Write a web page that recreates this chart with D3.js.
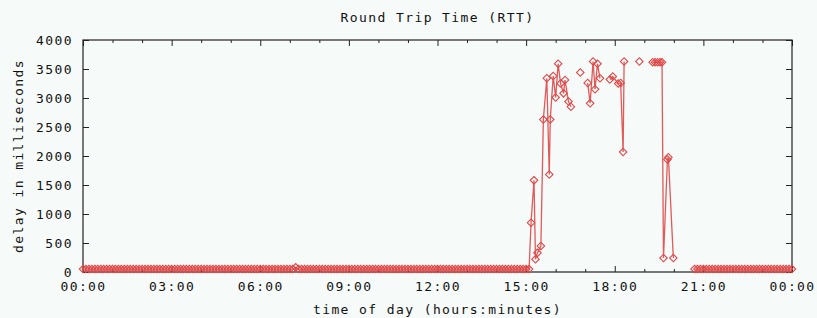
<!DOCTYPE html>
<html>
<head>
<meta charset="utf-8">
<script src="https://cdn.jsdelivr.net/npm/d3@7"></script>
<style>
  body { margin: 0; background: #f6faf8; }
  svg text { font-family: "DejaVu Sans Mono", monospace; font-size: 13px; fill: #111; letter-spacing: 1.4px; }
</style>
</head>
<body>
<div class="grafico"></div>
<script>
/* RTT samples, baseline before the outage (every 6 min from 00:00) */
const morningStart = "00:00"
const morningRtt = [
  50,50,50,50,50,50,50,50,50,50,50,50,50,50,50,50,50,50,50,50,
  50,50,50,50,50,50,50,50,50,50,50,50,50,50,50,50,50,50,50,50,
  50,50,50,50,50,50,50,50,50,50,50,50,50,50,50,50,50,50,50,50,
  50,50,50,50,50,50,50,50,50,50,50,50,80,50,50,50,50,50,50,50,
  50,50,50,50,50,50,50,50,50,50,50,50,50,50,50,50,50,50,50,50,
  50,50,50,50,50,50,50,50,50,50,50,50,50,50,50,50,50,50,50,50,
  50,50,50,50,50,50,50,50,50,50,50,50,50,50,50,50,50,50,50,50,
  50,50,50,50,50,50,50,50,50,50,50,50
]

/* High delay period, null = no sample (line break) */
const burstTimes = ["15:10","15:16","15:19","15:23","15:30","15:35","15:42","15:47","15:49","15:55",
  "16:00","16:05","16:10","16:16","16:19","16:26","16:31", null, "16:50", null,
  "17:05","17:10","17:16","17:20","17:25","17:30", null,
  "17:50","17:56","18:07","18:12","18:17","18:19", null, "18:50", null,
  "19:17","19:22","19:27","19:32","19:36","19:39","19:47","19:49","19:59", null]
const burstRtt = [850,1580,220,330,450,2630,3340,1680,2630,3380,
  3010,3590,3250,3080,3310,2940,2850, null, 3440, null,
  3260,2910,3630,3150,3590,3340, null,
  3320,3370,3250,3260,2070,3630, null, 3630, null,
  3615,3615,3615,3615,3615,240,1940,1980,240, null]

/* Baseline again at night (every 6 min from 20:42) */
const eveningStart = "20:42"
const eveningRtt = [
  50,50,50,50,50,50,50,50,50,50,50,50,50,50,50,50,50,
  50,50,50,50,50,50,50,50,50,50,50,50,50,50,50,50,50
]

const xTickLabels = ["00:00","03:00","06:00","09:00","12:00","15:00","18:00","21:00","00:00"]
const yTicks = [0,500,1000,1500,2000,2500,3000,3500,4000]

const toMin = s => { const p = s.split(':'); return +p[0] * 60 + +p[1] }

/* armar la serie completa */
const series = []
morningRtt.forEach((v, i) => series.push({ t: toMin(morningStart) + i * 6, v }))
burstTimes.forEach((t, i) => series.push({ t: t ? toMin(t) : null, v: burstRtt[i] }))
eveningRtt.forEach((v, i) => series.push({ t: toMin(eveningStart) + i * 6, v }))

const w = 817, h = 318
const m = { l: 83, r: 792, t: 40, b: 272 }

const x = d3.scaleLinear().domain([0, 1440]).range([m.l, m.r])
const y = d3.scaleLinear().domain([0, 4000]).range([m.b, m.t])

const svg = d3.select('.grafico').append('svg')
  .attr('width', w).attr('height', h)

svg.append('rect').attr('width', w).attr('height', h).attr('fill', '#f6faf8')

/* Ejes con ticks hacia adentro */
const majorX = d3.range(0, 1441, 180)
const minorX = d3.range(0, 1441, 60).filter(d => d % 180 !== 0)

const axes = svg.append('g').attr('class', 'axes')

axes.append('g').attr('transform', `translate(0,${m.b})`)
  .call(d3.axisBottom(x).tickValues(majorX).tickSizeInner(-6).tickSizeOuter(0).tickPadding(10)
    .tickFormat((d, i) => xTickLabels[i]))
axes.append('g').attr('transform', `translate(0,${m.b})`)
  .call(d3.axisBottom(x).tickValues(minorX).tickSizeInner(-3).tickSizeOuter(0).tickFormat(''))
axes.append('g').attr('transform', `translate(0,${m.t})`)
  .call(d3.axisTop(x).tickValues(majorX).tickSizeInner(-6).tickSizeOuter(0).tickFormat(''))
axes.append('g').attr('transform', `translate(0,${m.t})`)
  .call(d3.axisTop(x).tickValues(minorX).tickSizeInner(-3).tickSizeOuter(0).tickFormat(''))
axes.append('g').attr('transform', `translate(${m.l},0)`)
  .call(d3.axisLeft(y).tickValues(yTicks).tickSizeInner(-6).tickSizeOuter(0).tickPadding(10)
    .tickFormat(d3.format('d')))
axes.append('g').attr('transform', `translate(${m.r},0)`)
  .call(d3.axisRight(y).tickValues(yTicks).tickSizeInner(-6).tickSizeOuter(0).tickFormat(''))

axes.selectAll('.domain').remove()
axes.selectAll('.tick line').attr('stroke', '#222')
axes.selectAll('.tick text').attr('fill', '#111')
  .style('font-family', '"DejaVu Sans Mono", monospace').style('font-size', '13px')

/* Marco */
svg.append('rect')
  .attr('x', m.l).attr('y', m.t)
  .attr('width', m.r - m.l).attr('height', m.b - m.t)
  .attr('fill', 'none').attr('stroke', '#222').attr('stroke-width', 1.2)

/* Linea + puntos */
const line = d3.line()
  .defined(d => d.t !== null && d.v !== null)
  .x(d => x(d.t)).y(d => y(d.v))

svg.append('path')
  .datum(series)
  .attr('d', line)
  .attr('fill', 'none')
  .attr('stroke', '#e05a5a')
  .attr('stroke-width', 1.3)

const diamond = d3.symbol().type(d3.symbolSquare).size(28)
svg.append('g').selectAll('path')
  .data(series.filter(d => d.t !== null && d.v !== null))
  .join('path')
  .attr('d', diamond)
  .attr('transform', d => `translate(${x(d.t)},${y(d.v)}) rotate(45)`)
  .attr('fill', 'none')
  .attr('stroke', '#e04848')
  .attr('stroke-width', 1.1)

/* Titulos */
svg.append('text')
  .attr('x', (m.l + m.r) / 2).attr('y', 22)
  .attr('text-anchor', 'middle')
  .text('Round Trip Time (RTT)')

svg.append('text')
  .attr('x', (m.l + m.r) / 2).attr('y', 314)
  .attr('text-anchor', 'middle')
  .text('time of day (hours:minutes)')

svg.append('text')
  .attr('transform', `translate(23,${(m.t + m.b) / 2}) rotate(-90)`)
  .attr('text-anchor', 'middle')
  .text('delay in milliseconds')
</script>
</body>
</html>
